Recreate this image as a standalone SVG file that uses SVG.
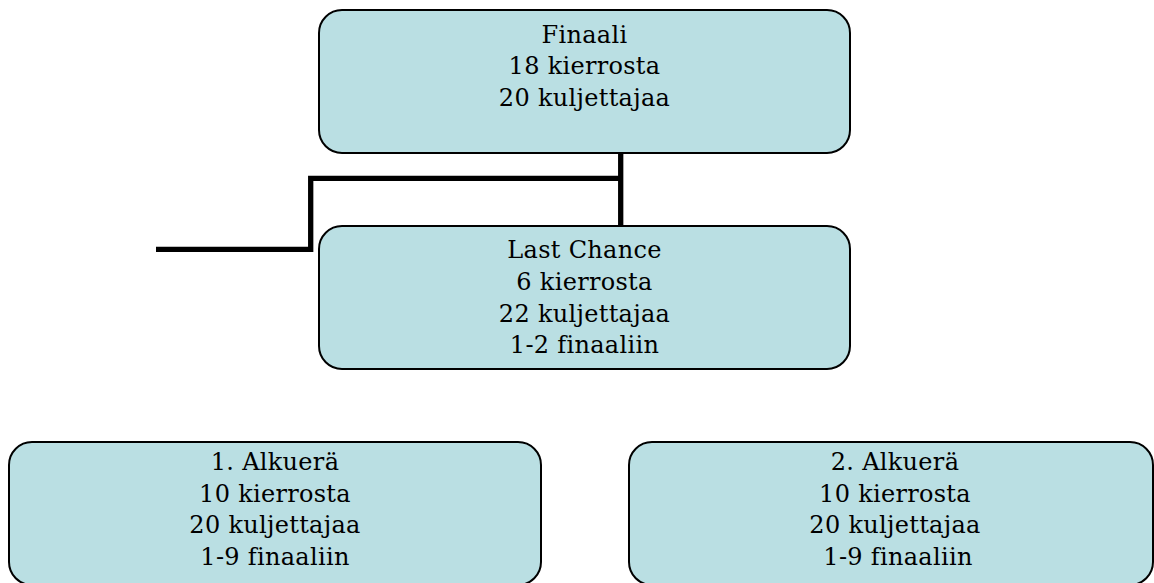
<svg xmlns="http://www.w3.org/2000/svg" width="1154" height="583" viewBox="0 0 1154 583">
<style>
.box{fill:#BADFE3;stroke:#000;stroke-width:2}
.t{font-family:"DejaVu Serif","Liberation Serif",serif;font-size:24px;letter-spacing:0.3px;fill:#000;text-anchor:middle}
.conn{fill:none;stroke:#000;stroke-width:5.3;stroke-linejoin:miter}
</style>
<rect width="1154" height="583" fill="#fff"/>
<g id="connectors">
<line class="conn" x1="620.7" y1="153" x2="620.7" y2="226"/>
<polyline class="conn" points="620.7,178.3 310.7,178.3 310.7,249.3 156,249.3"/>
</g>
<g id="finaali">
<rect class="box" x="319" y="10" width="531" height="143" rx="23"/>
<text class="t" x="584.5" y="42.7">Finaali</text>
<text class="t" x="584.5" y="74.3">18 kierrosta</text>
<text class="t" x="584.5" y="105.5">20 kuljettajaa</text>
</g>
<g id="lastchance">
<rect class="box" x="319" y="226" width="531" height="143" rx="23"/>
<text class="t" x="584.5" y="258.3">Last Chance</text>
<text class="t" x="584.5" y="290">6 kierrosta</text>
<text class="t" x="584.5" y="321.7">22 kuljettajaa</text>
<text class="t" x="584.5" y="353.3">1-2 finaaliin</text>
</g>
<g id="alkuera1">
<rect class="box" x="9" y="442" width="532" height="143" rx="23"/>
<text class="t" x="275" y="470">1. Alkuerä</text>
<text class="t" x="275" y="501.5">10 kierrosta</text>
<text class="t" x="275" y="533">20 kuljettajaa</text>
<text class="t" x="275" y="565">1-9 finaaliin</text>
</g>
<g id="alkuera2">
<rect class="box" x="629" y="442" width="524" height="143" rx="23"/>
<text class="t" x="895" y="470">2. Alkuerä</text>
<text class="t" x="895" y="501.5">10 kierrosta</text>
<text class="t" x="895" y="533">20 kuljettajaa</text>
<text class="t" x="898" y="565">1-9 finaaliin</text>
</g>
</svg>
